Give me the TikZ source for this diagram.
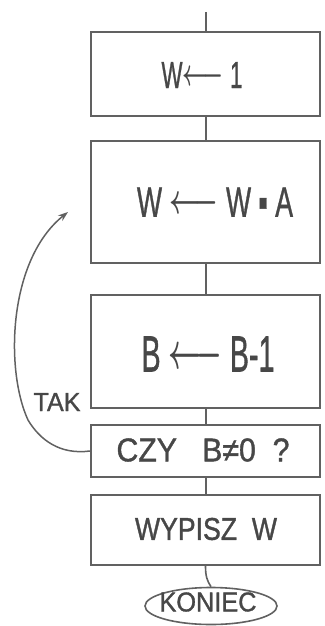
\documentclass[tikz,border=0pt]{standalone}
\usepackage{fontspec}
\setmainfont[FakeBold=1.2]{Liberation Sans}
\usetikzlibrary{shapes.geometric,arrows.meta}
% set a text to a given width and cap height (in pt)
\newcommand{\fitto}[3]{\resizebox{#1pt}{#2pt}{#3}}
% assignment arrow
\newcommand{\assignarrow}{\raisebox{0.6pt}{$\boldsymbol{\longleftarrow}$}}
\usepackage{amsmath}

\begin{document}
\begin{tikzpicture}[x=1pt,y=-1pt,
  ink/.style={draw=black!62, line width=2pt},
  stepbox/.style={ink, rectangle, inner sep=0pt, minimum width=229pt},
  txt/.style={text=black!72, inner sep=0pt}]
\useasboundingbox (0,0) rectangle (324,626);

% flowchart blocks
\node[stepbox, minimum height=84pt]  (b1) at (205.5,74)    {};
\node[stepbox, minimum height=122pt] (b2) at (205.5,202)   {};
\node[stepbox, minimum height=113pt] (b3) at (205.5,351.5) {};
\node[stepbox, minimum height=52pt]  (b4) at (205.5,451)   {};
\node[stepbox, minimum height=70pt]  (b5) at (205.5,530)   {};
\node[ink, ellipse, line width=1.6pt, minimum width=132pt, minimum height=37pt, inner sep=0pt] (end) at (211,606) {};

% block texts
\node[txt] (t1) at (202,75)  {\fitto{81}{26}{W\assignarrow\ 1}};
\node[txt] (t2) at (215,202) {\fitto{156}{29}{W\ \assignarrow\ W ▪ A}};
\node[txt] (t3) at (208,354) {\fitto{133}{35}{B\ \assignarrow\ B-1}};
\node[txt] (t4) at (203,450) {\fitto{173}{23}{CZY\ \ \ B≠0\ \ ?}};
\node[txt] (t5) at (206,529) {\fitto{142}{22}{WYPISZ\ \ W}};
\node[txt] (t6) at (208,602) {\fitto{97}{19}{KONIEC}};
\node[txt] (tak) at (57,402) {\fitto{47}{18}{TAK}};

% connectors
\coordinate (top) at (205.5,12);
\draw[ink] (top) -- (b1.north);
\draw[ink] (b1.south) -- (b2.north);
\draw[ink] (b2.south) -- (b3.north);
\draw[ink] (b3.south) -- (b4.north);
\draw[ink] (b4.south) -- (b5.north);
\draw[ink, line width=1.6pt] (b5.south) .. controls +(0,10) and +(-4,-6) .. (end.north);

% loop back when the condition holds
\coordinate (tip) at (68,212);
\draw[ink, line width=1.5pt, -{Stealth[length=10pt,width=7pt]}]
  (b4.west) .. controls (60,455) and (40,440) .. (28,420)
  .. controls (5,370) and (8,260) .. (tip);
\end{tikzpicture}
\end{document}
